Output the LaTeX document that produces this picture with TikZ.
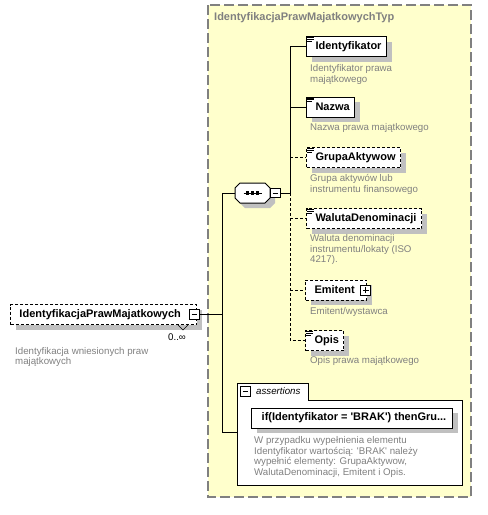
\documentclass[tikz,border=0pt]{standalone}
\usepackage{fontspec}
\setmainfont{Liberation Sans}
\usetikzlibrary{shadows}
\definecolor{typeyellow}{HTML}{FFFFCC}
\definecolor{docgray}{HTML}{808080}
\definecolor{shadegray}{HTML}{C0C0C0}
\tikzset{
  elem/.style={draw, fill=white, line width=1pt, minimum height=20pt, inner xsep=5pt, inner ysep=0pt,
    font=\fontsize{11}{13}\selectfont\bfseries,
    drop shadow={shadow xshift=5pt, shadow yshift=-5pt, fill=shadegray, opacity=1},
    execute at begin node={\hspace*{4pt}}},
  optelem/.style={elem, dash pattern=on 3pt off 2pt},
  doc/.style={anchor=north west, inner sep=0pt, align=left, text=docgray, font=\fontsize{9.7}{10.5}\selectfont},
  togbox/.style={draw, fill=white, line width=0.8pt, minimum size=9.5pt, inner sep=0pt,
    path picture={\draw[line width=0.8pt] ([xshift=2pt]path picture bounding box.west) -- ([xshift=-2pt]path picture bounding box.east);}},
  plusbox/.style={draw, fill=white, line width=0.8pt, minimum size=10pt, inner sep=0pt,
    path picture={\draw[line width=0.8pt] ([xshift=2pt]path picture bounding box.west) -- ([xshift=-2pt]path picture bounding box.east)
      ([yshift=2pt]path picture bounding box.south) -- ([yshift=-2pt]path picture bounding box.north);}},
  conn/.style={line width=1pt},
  optconn/.style={conn, dash pattern=on 3pt off 2pt}
}
% three small lines in the corner of an element box
\newcommand{\docmark}[1]{
  \draw[line width=0.7pt] ([shift={(1,1.5)}]#1.north west) -- ++(7,0)
    ([shift={(1,3.3)}]#1.north west) -- ++(7,0)
    ([shift={(1,5.1)}]#1.north west) -- ++(5,0);
}
\begin{document}
\begin{tikzpicture}[x=1pt,y=-1pt]
  \useasboundingbox (0,0) rectangle (488,515);
  % complex type frame
  \draw[fill=typeyellow, draw=docgray, line width=1.3pt, dash pattern=on 10pt off 4pt] (208,5) rectangle (471,497);
  \node[anchor=west, inner sep=0pt, text=docgray, font=\fontsize{11}{13}\selectfont\bfseries] (title) at (214,18) {IdentyfikacjaPrawMajatkowychTyp};

  % root element
  \node[optelem, anchor=west] (root) at (10,314.5) {IdentyfikacjaPrawMajatkowych\hspace*{11pt}};
  \node[togbox] (roottog) at ([xshift=-3pt]root.east) {};
  \draw[line width=0.6pt] (178,325) -- (183,330) -- (188,325);
  \node[anchor=west, inner sep=0pt, font=\fontsize{9.7}{11}\selectfont] (mult) at (168,337) {0..∞};
  \node[doc] (rootdoc) at (15,347) {Identyfikacja wniesionych praw\\majątkowych};

  % sequence
  \fill[shadegray, shift={(5,5)}] (240,183) -- (265,183) -- (270,188) -- (270,198) -- (265,203) -- (240,203) -- (235,198) -- (235,188) -- cycle;
  \draw[fill=white, line width=1pt] (240,183) -- (265,183) -- (270,188) -- (270,198) -- (265,203) -- (240,203) -- (235,198) -- (235,188) -- cycle;
  \node[minimum width=35pt, minimum height=20pt, inner sep=0pt] (seq) at (252.5,193) {};
  \draw[line width=1pt] ([xshift=-9pt]seq.center) -- ([xshift=9pt]seq.center);
  \fill ([shift={(-6.5,-1.7)}]seq.center) rectangle ++(3.4,3.4);
  \fill ([shift={(-1.7,-1.7)}]seq.center) rectangle ++(3.4,3.4);
  \fill ([shift={(3.1,-1.7)}]seq.center) rectangle ++(3.4,3.4);
  \node[togbox, anchor=west] (seqtog) at (seq.east) {};

  % child elements
  \node[elem, anchor=west] (ident) at (306,46.5) {Identyfikator};
  \node[doc] (identdoc) at (310,64.5) {Identyfikator prawa\\majątkowego};
  \node[elem, anchor=west] (nazwa) at (306,107) {Nazwa};
  \node[doc] (nazwadoc) at (310,123.5) {Nazwa prawa majątkowego};
  \node[optelem, anchor=west] (grupa) at (306,157.5) {GrupaAktywow};
  \node[doc] (grupadoc) at (310,174.5) {Grupa aktywów lub\\instrumentu finansowego};
  \node[optelem, anchor=west] (waluta) at (306,218.5) {WalutaDenominacji};
  \node[doc] (walutadoc) at (310,234.5) {Waluta denominacji\\instrumentu/lokaty (ISO\\4217).};
  \node[optelem, anchor=west] (emitent) at (305,290) {Emitent\hspace*{7pt}};
  \node[plusbox] (emitenttog) at ([xshift=-1.5pt]emitent.east) {};
  \node[doc] (emitentdoc) at (310,307.5) {Emitent/wystawca};
  \node[optelem, anchor=west] (opis) at (305,340.5) {Opis};
  \node[doc] (opisdoc) at (310,356.5) {Opis prawa majątkowego};
  \docmark{ident}
  \docmark{nazwa}
  \docmark{grupa}
  \docmark{waluta}
  \docmark{opis}

  % assertions
  \draw[fill=white, line width=1pt] (237,383) -- (308,383) -- (308,400) -- (462,400) -- (462,485) -- (237,485) -- cycle;
  \coordinate (asrt) at (237,432);
  \node[togbox] (asrttog) at (245.5,391.5) {};
  \node[anchor=west, inner sep=0pt, font=\fontsize{9.7}{11}\selectfont\itshape] (asrtlbl) at (256,391.5) {assertions};
  \node[elem, anchor=west, execute at begin node={}, inner xsep=4pt, minimum width=201pt] (rule) at (251,418)
    {if(Identyfikator = \textquotesingle BRAK\textquotesingle) thenGru...};
  \node[doc] (ruledoc) at (254,436.5) {W przypadku wypełnienia elementu\\Identyfikator wartością: \textquotesingle BRAK\textquotesingle{} należy\\wypełnić elementy: GrupaAktywow,\\WalutaDenominacji, Emitent i Opis.};

  % connectors
  \coordinate (lsp) at (222,0);
  \coordinate (rsp) at (290,0);
  \draw[conn] (roottog.east) -- (roottog.east -| lsp);
  \draw[conn] (seq.west) -- (seq.west -| lsp) -- (asrt -| lsp) -- (asrt);
  \draw[conn] (seqtog.east) -- (seqtog.east -| rsp);
  \draw[conn] (ident.west) -- (ident.west -| rsp) -- (seqtog.east -| rsp);
  \draw[conn] (nazwa.west) -- (nazwa.west -| rsp);
  \draw[optconn] (seqtog.east -| rsp) -- (opis.west -| rsp) -- (opis.west);
  \draw[optconn] (grupa.west -| rsp) -- (grupa.west);
  \draw[optconn] (waluta.west -| rsp) -- (waluta.west);
  \draw[optconn] (emitent.west -| rsp) -- (emitent.west);
\end{tikzpicture}
\end{document}
